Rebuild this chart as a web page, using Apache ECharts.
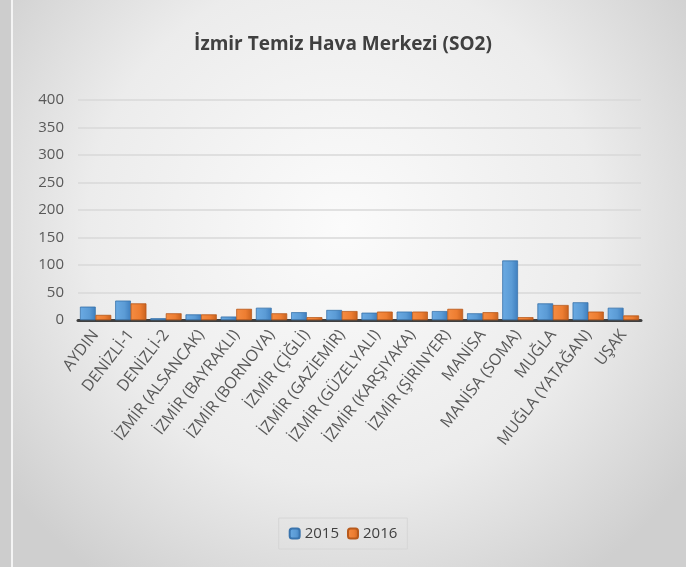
<!DOCTYPE html>
<html>
<head>
<meta charset="utf-8">
<script src="https://cdn.jsdelivr.net/npm/echarts@6/dist/echarts.min.js"></script>
<style>
  html, body { margin: 0; padding: 0; background: #e6e6e6; }
  #chart { width: 686px; height: 567px; }
</style>
</head>
<body>
<div id="chart"></div>
<script>
var stations = ['AYDIN', 'DENİZLİ-1', 'DENİZLİ-2', 'İZMİR (ALSANCAK)', 'İZMİR (BAYRAKLI)',
  'İZMİR (BORNOVA)', 'İZMİR (ÇİĞLİ)', 'İZMİR (GAZİEMİR)', 'İZMİR (GÜZELYALI)',
  'İZMİR (KARŞIYAKA)', 'İZMİR (ŞİRİNYER)', 'MANİSA', 'MANİSA (SOMA)', 'MUĞLA',
  'MUĞLA (YATAĞAN)', 'UŞAK'];
var so2_2015 = [24, 35, 3, 10, 6, 22, 14, 18, 13, 15, 16, 12, 108, 30, 32, 22];
var so2_2016 = [9, 30, 12, 10, 20, 12, 5, 16, 15, 15, 20, 14, 5, 27, 15, 8];
var yTicks = [0, 50, 100, 150, 200, 250, 300, 350, 400];

var chart = echarts.init(document.getElementById('chart'));

var font = '"Open Sans", "Noto Sans", sans-serif';

var option = {
  backgroundColor: {
    type: 'radial', x: 0.5, y: 0.4, r: 0.75,
    colorStops: [
      { offset: 0, color: '#fbfbfb' },
      { offset: 0.6, color: '#ececec' },
      { offset: 1, color: '#cfcfcf' }
    ]
  },
  textStyle: { fontFamily: font },
  // picture frame on the left edge
  graphic: [
    { type: 'rect', left: 0, top: 0, shape: { width: 11, height: 567 },
      style: { fill: '#cdcdcd' }, silent: true },
    { type: 'rect', left: 11, top: 0, shape: { width: 2, height: 567 },
      style: { fill: '#f4f4f4' }, silent: true }
  ],
  title: {
    text: 'İzmir Temiz Hava Merkezi (SO2)',
    left: 'center',
    top: 30,
    textStyle: { fontSize: 19, fontWeight: 'bold', color: '#404040', fontFamily: font }
  },
  color: ['#5B9BD5', '#ED7D31'],
  legend: {
    data: ['2015', '2016'],
    bottom: 18,
    left: 'center',
    itemWidth: 10,
    itemHeight: 10,
    itemGap: 8,
    padding: [8, 10],
    borderColor: '#d6d6d6',
    borderWidth: 1,
    textStyle: { fontSize: 15, color: '#404040', fontFamily: font }
  },
  grid: {
    left: 78,
    right: 45,
    top: 100,
    height: 220
  },
  xAxis: {
    type: 'category',
    data: stations,
    axisLine: { lineStyle: { color: '#404040', width: 3 } },
    axisTick: { show: false },
    axisLabel: {
      rotate: 52,
      interval: 0,
      margin: 12,
      fontSize: 16,
      color: '#595959',
      fontFamily: font
    }
  },
  yAxis: {
    type: 'value',
    min: yTicks[0],
    max: yTicks[yTicks.length - 1],
    interval: 50,
    axisLine: { show: false },
    axisTick: { show: false },
    axisLabel: {
      fontSize: 15,
      color: '#595959',
      margin: 14,
      fontFamily: font
    },
    splitLine: { lineStyle: { color: '#d9d9d9', width: 1.5 } }
  },
  series: [
    {
      name: '2015',
      type: 'bar',
      data: so2_2015,
      barGap: '0%',
      barCategoryGap: '12%',
      itemStyle: {
        color: {
          type: 'linear', x: 0, y: 0, x2: 1, y2: 0,
          colorStops: [
            { offset: 0, color: '#6aaae3' },
            { offset: 0.6, color: '#5B9BD5' },
            { offset: 1, color: '#3f7fbf' }
          ]
        },
        borderColor: '#3a74ad',
        borderWidth: 0.5
      }
    },
    {
      name: '2016',
      type: 'bar',
      data: so2_2016,
      itemStyle: {
        color: {
          type: 'linear', x: 0, y: 0, x2: 1, y2: 0,
          colorStops: [
            { offset: 0, color: '#f58c42' },
            { offset: 0.6, color: '#ED7D31' },
            { offset: 1, color: '#c9621f' }
          ]
        },
        borderColor: '#b85a1c',
        borderWidth: 0.5
      }
    }
  ]
};

chart.setOption(option);
</script>
</body>
</html>
